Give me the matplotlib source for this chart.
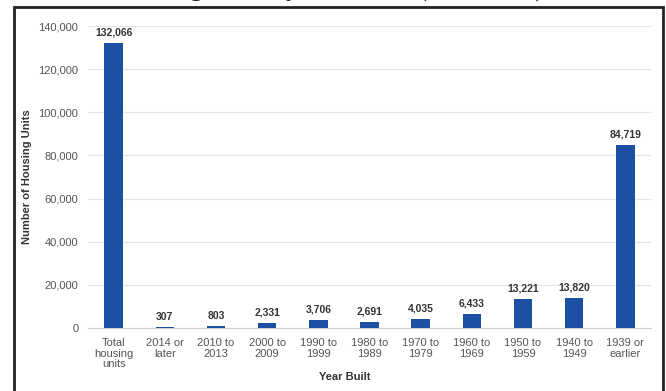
import matplotlib.pyplot as plt
from matplotlib.patches import Rectangle
from matplotlib.ticker import FuncFormatter

plt.rcParams['font.family'] = ['Liberation Sans', 'DejaVu Sans']

# Housing units by year built
categories = ["Total\nhousing\nunits", "2014 or\nlater", "2010 to\n2013", "2000 to\n2009",
              "1990 to\n1999", "1980 to\n1989", "1970 to\n1979", "1960 to\n1969",
              "1950 to\n1959", "1940 to\n1949", "1939 or\nearlier"]
units = [132066, 307, 803, 2331, 3706, 2691, 4035, 6433, 13221, 13820, 84719]
yticks = [0, 20000, 40000, 60000, 80000, 100000, 120000, 140000]

W, H = 666, 391
fig = plt.figure(figsize=(W / 100, H / 100), dpi=100)
ax = fig.add_axes([88 / W, 1 - 328 / H, (651 - 88) / W, (328 - 26) / H])

x = list(range(len(categories)))
bars = ax.bar(x, units, width=0.36, color='#1d4fa3', zorder=3)

for rect, v in zip(bars, units):
    ax.annotate(f"{v:,}", (rect.get_x() + rect.get_width() / 2, v),
                xytext=(0, 4), textcoords='offset points', ha='center', va='bottom',
                fontsize=7.5, fontweight='bold', color='#333333')

ax.set_xlim(-0.5, len(categories) - 0.5)
ax.set_ylim(0, 140000)
ax.set_yticks(yticks)
ax.yaxis.set_major_formatter(FuncFormatter(lambda v, p: f"{int(v):,}"))
ax.set_xticks(x)
ax.set_xticklabels(categories, fontsize=8, color='#555555', linespacing=1.1)
ax.tick_params(axis='y', labelsize=8, labelcolor='#555555', length=0, pad=7)
ax.tick_params(axis='x', length=0, pad=7)

ax.grid(axis='y', color='#e4e4e4', linewidth=0.8, zorder=0)
for s in ['top', 'right', 'left']:
    ax.spines[s].set_visible(False)
ax.spines['bottom'].set_color('#cccccc')
ax.spines['bottom'].set_linewidth(0.8)

fig.text(345 / W, 1 - 377 / H, "Year Built", ha='center', va='center',
         fontsize=8, fontweight='bold', color='#333333')
fig.text(27 / W, 1 - 177 / H, "Number of Housing Units", ha='center', va='center',
         rotation=90, fontsize=8, fontweight='bold', color='#333333')

# page title sits just above the frame, only its descenders show
fig.text(329 / W, 1 + 4 / H, "Housing Units by Year Built (2014-2018)", ha='center',
         va='baseline', fontsize=18, fontweight='bold', color='#222222',
         family='Liberation Serif')

# dark frame around the chart
fig.patches.append(Rectangle((13.5 / W, -0.05), (663 - 13.5) / W, 1.05 - 6.5 / H,
                             transform=fig.transFigure, fill=False,
                             edgecolor='#222222', linewidth=2.0))

fig.savefig("out.png", dpi=100)
